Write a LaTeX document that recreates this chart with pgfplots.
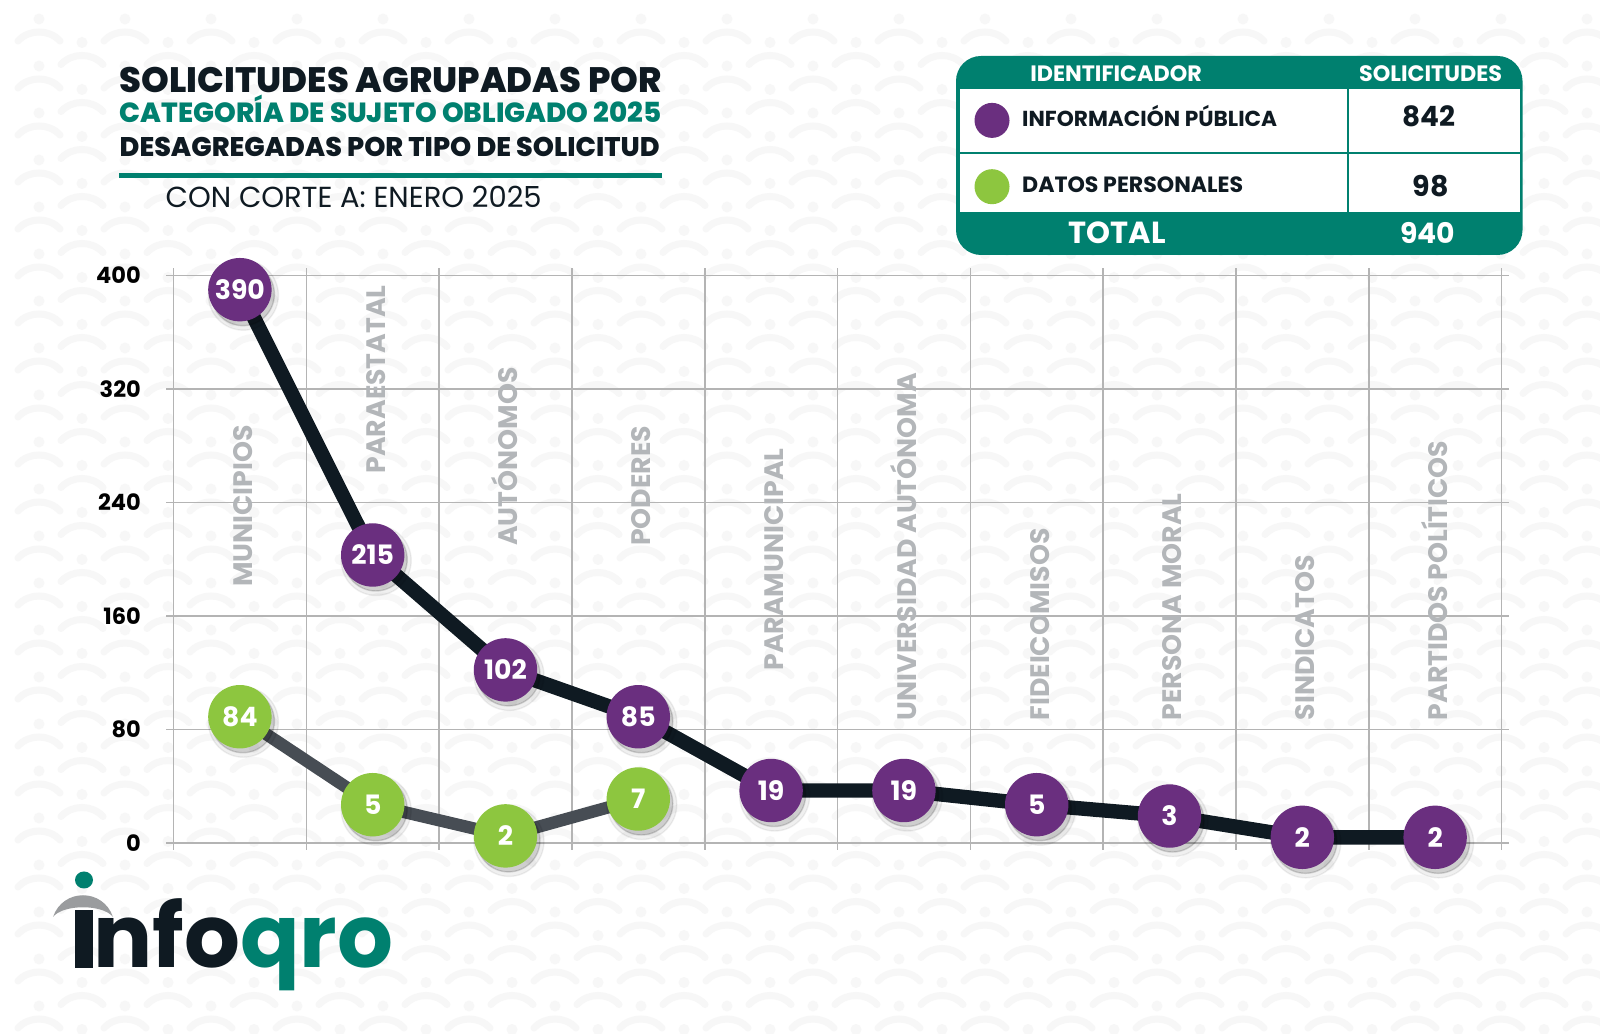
\documentclass[border=0pt]{standalone}
\usepackage{fontspec}
\setmainfont{Poppins}
\newfontfamily\heavy{Poppins ExtraBold}
\usepackage{pgfplots}
\usepackage{pgfplotstable}
\pgfplotsset{compat=1.18}

\definecolor{teal1}{HTML}{00806F}
\definecolor{navy}{HTML}{0F1A22}
\definecolor{purp}{HTML}{6A2F7F}
\definecolor{lime}{HTML}{8DC63F}
\definecolor{catgray}{HTML}{B3B6B9}
\definecolor{gridgray}{HTML}{B4B4B4}
\definecolor{slate}{HTML}{474D54}
\definecolor{arcgray}{HTML}{9A9C9E}
\definecolor{bgpat}{HTML}{F7F7F7}

\newcommand\fitw[2]{\resizebox{#1}{!}{#2}}
\tikzset{cat/.style={rotate=90, anchor=west, inner sep=0pt, text=catgray,
    font=\bfseries\fontsize{7.6}{8}\selectfont, text height=0.7em, text depth=0pt}}
% one faint background figure: dot over an arc, arc peak at (#1,#2)
\newcommand\bgfig[2]{%
  \fill[bgpat] (#1,#2+0.13) circle (0.055);
  \draw[bgpat, line width=0.07cm, line cap=round] (#1-0.21,#2-0.09) .. controls (#1-0.1,#2+0.03) and (#1+0.1,#2+0.03) .. (#1+0.21,#2-0.09);}

% y = where the bubble is drawn, lab = the value printed in it
\pgfplotstableread{
x y lab
0 390 390
1 203 215
2 122 102
3 89 85
4 37 19
5 37 19
6 27 5
7 19 3
8 4 2
9 4 2
}\pubdata

\pgfplotstableread{
x y lab
0 89 84
1 27 5
2 5 2
3 31 7
}\datdata

\begin{document}
\begin{tikzpicture}
\path[use as bounding box, fill=white] (0,0) rectangle (16,10.34);
\begin{scope}
\clip (0,0) rectangle (16,10.34);
\foreach \i in {0,...,18}{
  \foreach \j in {0,...,22}{
    \pgfmathsetmacro\xa{0.39+0.86*\i}
    \pgfmathsetmacro\ya{10.34-0.32-0.47*\j}
    \pgfmathsetmacro\xb{0.82+0.86*\i}
    \pgfmathsetmacro\yb{10.34-0.555-0.47*\j}
    \bgfig{\xa}{\ya}
    \bgfig{\xb}{\yb}
  }}
\end{scope}

% ---- title ----
\node[anchor=base west, inner sep=0, text=navy] at (1.19,9.41) {\fitw{5.42cm}{\heavy SOLICITUDES AGRUPADAS POR}};
\node[anchor=base west, inner sep=0, text=teal1] at (1.19,9.11) {\fitw{5.42cm}{\heavy CATEGORÍA DE SUJETO OBLIGADO 2025}};
\node[anchor=base west, inner sep=0, text=navy] at (1.19,8.77) {\fitw{5.40cm}{\heavy DESAGREGADAS POR TIPO DE SOLICITUD}};
\draw[teal1, line width=0.056cm] (1.19,8.585) -- (6.62,8.585);
\node[anchor=base west, inner sep=0, text=navy] at (1.65,8.26) {\fitw{3.76cm}{CON CORTE A: ENERO 2025}};

% ---- summary table ----
\fill[teal1, rounded corners=0.25cm] (9.56,7.79) rectangle (15.225,9.78);
\fill[white] (9.60,8.218) rectangle (15.195,9.452);
\draw[teal1, line width=0.02cm] (9.60,8.81) -- (15.195,8.81);
\draw[teal1, line width=0.02cm] (13.48,8.218) -- (13.48,9.452);
\node[inner sep=0, text=white] at (11.16,9.605) {\fitw{1.715cm}{\bfseries IDENTIFICADOR}};
\node[inner sep=0, text=white] at (14.306,9.605) {\fitw{1.43cm}{\bfseries SOLICITUDES}};
\fill[purp] (9.92,9.136) circle (0.175);
\fill[lime] (9.92,8.473) circle (0.175);
\node[anchor=base west, inner sep=0, text=navy] at (10.215,9.07) {\fitw{2.55cm}{\bfseries INFORMACIÓN PÚBLICA}};
\node[anchor=base west, inner sep=0, text=navy] at (10.215,8.418) {\fitw{2.21cm}{\bfseries DATOS PERSONALES}};
\node[inner sep=0, text=navy] at (14.286,9.177) {\fitw{0.53cm}{\bfseries 842}};
\node[inner sep=0, text=navy] at (14.306,8.483) {\fitw{0.36cm}{\bfseries 98}};
\node[inner sep=0, text=white] at (11.173,8.013) {\fitw{0.97cm}{\bfseries TOTAL}};
\node[inner sep=0, text=white] at (14.276,8.013) {\fitw{0.55cm}{\bfseries 940}};

% ---- logo ----
\fill[arcgray] (0.53,1.17) .. controls (0.63,1.46) and (1.03,1.46) .. (1.13,1.17)
  .. controls (1.03,1.30) and (0.63,1.30) .. cycle;
\fill[teal1] (0.84,1.54) ellipse (0.09 and 0.085);
\fill[navy] (0.75,0.66) rectangle (0.93,1.24);
\node[anchor=base west, inner sep=0] at (0.925,0.66) {\fitw{3.0cm}{\bfseries\color{navy}nfo\color{teal1}qro}};

% ---- chart ----
\begin{axis}[
  at={(1.735cm,1.91cm)}, anchor=south west,
  width=13.28cm, height=5.675cm, scale only axis,
  xmin=-0.5, xmax=9.5, ymin=0, ymax=400,
  xtick={-0.5,0.5,...,9.5}, xticklabels={},
  ytick={0,80,...,400},
  tick pos=both, tick align=outside, major tick length=0.07cm,
  grid=major, grid style={gridgray, line width=0.45pt},
  axis line style={gridgray, line width=0.45pt},
  tick style={gridgray, line width=0.45pt},
  yticklabel style={font=\bfseries\fontsize{6.4}{7}\selectfont, text=black, inner sep=0pt, xshift=-0.25cm},
  /pgf/number format/assume math mode=true,
  clip=false,
]
\node[cat] at (axis cs:0,180) {MUNICIPIOS};
\node[cat] at (axis cs:1,260) {PARAESTATAL};
\node[cat] at (axis cs:2,209) {AUTÓNOMOS};
\node[cat] at (axis cs:3,209) {PODERES};
\node[cat] at (axis cs:4,121) {PARAMUNICIPAL};
\node[cat] at (axis cs:5,86) {UNIVERSIDAD AUTÓNOMA};
\node[cat] at (axis cs:6,86) {FIDEICOMISOS};
\node[cat] at (axis cs:7,86) {PERSONA MORAL};
\node[cat] at (axis cs:8,86) {SINDICATOS};
\node[cat] at (axis cs:9,86) {PARTIDOS POLÍTICOS};

% connecting lines
\addplot[slate, line width=3.5pt, line join=round] table[x=x,y=y] \datdata;
\addplot[navy, line width=4.1pt, line join=round] table[x=x,y=y] \pubdata;

% soft shadows under the bubbles
\addplot[only marks, mark=*, mark size=0.35cm, mark options={black, opacity=0.06, xshift=0.035cm, yshift=-0.055cm}] table[x=x,y=y] \pubdata;
\addplot[only marks, mark=*, mark size=0.315cm, mark options={black, opacity=0.14, xshift=0.03cm, yshift=-0.045cm}] table[x=x,y=y] \pubdata;
\addplot[only marks, mark=*, mark size=0.35cm, mark options={black, opacity=0.06, xshift=0.035cm, yshift=-0.055cm}] table[x=x,y=y] \datdata;
\addplot[only marks, mark=*, mark size=0.315cm, mark options={black, opacity=0.14, xshift=0.03cm, yshift=-0.045cm}] table[x=x,y=y] \datdata;

% bubbles with values
\addplot[only marks, mark=*, mark size=0.31cm, mark options={draw=lime, fill=lime},
  nodes near coords, point meta=explicit symbolic, nodes near coords align={center},
  every node near coord/.append style={text=white, inner sep=0pt, font=\bfseries\fontsize{7.6}{8}\selectfont}]
  table[x=x,y=y,meta=lab] \datdata;
\addplot[only marks, mark=*, mark size=0.31cm, mark options={draw=purp, fill=purp},
  nodes near coords, point meta=explicit symbolic, nodes near coords align={center},
  every node near coord/.append style={text=white, inner sep=0pt, font=\bfseries\fontsize{7.6}{8}\selectfont}]
  table[x=x,y=y,meta=lab] \pubdata;
\end{axis}
\end{tikzpicture}
\end{document}
